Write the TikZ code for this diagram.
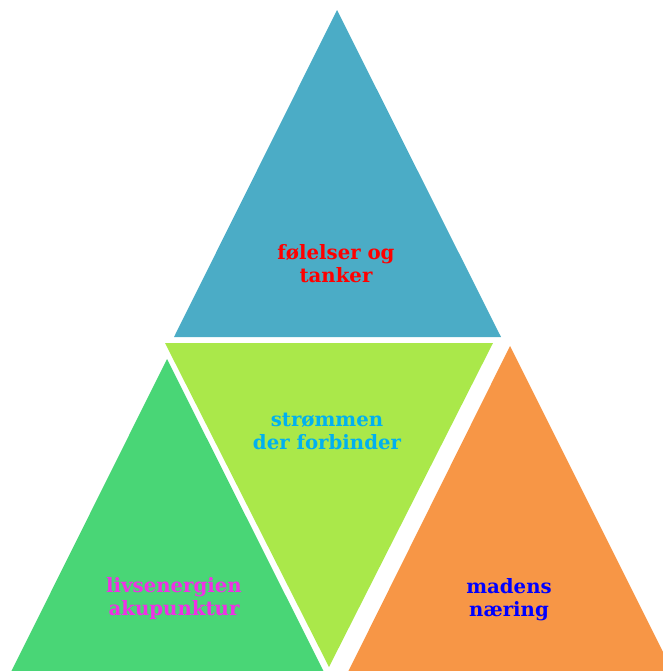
\documentclass[tikz,border=0pt]{standalone}
\usepackage{fontspec}
\setmainfont{DejaVu Serif}
\definecolor{azul}{HTML}{4BACC6}
\definecolor{lima}{HTML}{AAE84A}
\definecolor{verde}{HTML}{49D676}
\definecolor{naranja}{HTML}{F79646}
\definecolor{celeste}{HTML}{00B0F0}
\definecolor{magenta}{HTML}{F030E6}
\begin{document}
\begin{tikzpicture}[x=0.75pt, y=-0.75pt,
        % Triángulos rellenos sin borde
        tri/.style={fill=#1, draw=none},
        % Texto de cada triángulo
        texto/.style={align=center, inner sep=0pt, font=\bfseries\fontsize{14.8}{17.3}\selectfont}
    ]
    \useasboundingbox (0,0) rectangle (663,671);
    \clip (0,0) rectangle (663,671);

    % Vértices de los triángulos (en píxeles)
    \coordinate (a1) at (337,10);   \coordinate (a2) at (174,337);  \coordinate (a3) at (501,337);
    \coordinate (b1) at (165,343);  \coordinate (b2) at (493,343);  \coordinate (b3) at (329,667);
    \coordinate (c1) at (167,359);  \coordinate (c2) at (10,674);   \coordinate (c3) at (325,674);
    \coordinate (d1) at (510,346);  \coordinate (d2) at (347,674);  \coordinate (d3) at (674,674);

    % Dibujado de los cuatro triángulos
    \fill[tri=azul] (a1) -- (a2) -- (a3) -- cycle;
    \fill[tri=lima] (b1) -- (b2) -- (b3) -- cycle;
    \fill[tri=verde] (c1) -- (c2) -- (c3) -- cycle;
    \fill[tri=naranja] (d1) -- (d2) -- (d3) -- cycle;

    % Etiquetas de cada triángulo
    \node[texto, text=red] (tanker) at (336,264) {følelser og\\tanker};
    \node[texto, text=celeste] (strom) at (327,431) {strømmen\\der forbinder};
    \node[texto, text=magenta] (liv) at (174,599) {livsenergien\\akupunktur};
    \node[texto, text=blue] (mad) at (509,600) {madens\\næring};

\end{tikzpicture}
\end{document}
